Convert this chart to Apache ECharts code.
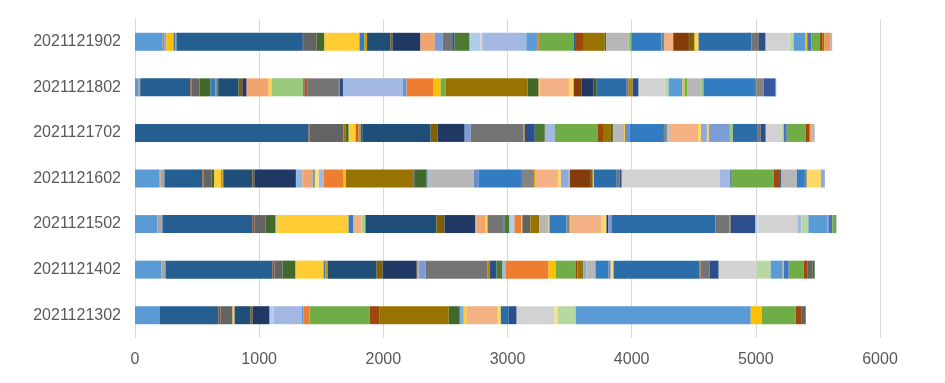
<!DOCTYPE html>
<html><head><meta charset="utf-8">
<script src="https://cdn.jsdelivr.net/npm/echarts@6/dist/echarts.min.js"></script>
<style>html,body{margin:0;padding:0;background:#fff}#c{width:945px;height:383px}</style>
</head><body><div id="c"></div>
<script>
// Categories (bottom to top in the chart)
const categories = ['2021121302','2021121402','2021121502','2021121602','2021121702','2021121802','2021121902'];
const xTicks = [0, 1000, 2000, 3000, 4000, 5000, 6000];
const seriesCount = 137;

// Values per category, keyed by series number (missing = 0)
const v2021121902 = {1:224,2:10,3:20,4:56,5:16,6:8,7:1018,8:8,9:102,12:64,16:282,19:40,22:21,31:188,34:16,35:226,38:116,41:64,45:76,47:19,48:121,49:86,51:16,53:355,55:85,56:16,60:280,61:11,62:64,64:175,66:13,69:180,72:21,73:244,75:24,80:70,86:126,88:46,94:32,97:427,99:59,101:54,105:193,108:32,109:97,112:13,113:32,114:67,116:21,118:19,122:46,123:16};
const v2021121802 = {1:26,3:16,7:405,8:8,9:64,12:89,19:40,21:11,24:11,31:164,34:30,35:35,38:177,40:24,42:255,43:11,44:21,45:255,46:8,47:27,53:478,55:32,56:218,58:56,60:40,64:661,66:89,70:8,80:242,82:32,86:62,89:99,90:24,97:242,99:16,100:32,101:48,103:8,105:201,108:32,109:113,112:16,114:24,123:113,126:16,127:414,128:11,129:59,131:97,133:5};
const v2021121702 = {7:1398,8:8,9:272,10:19,12:24,16:56,20:24,22:16,23:13,31:551,34:56,35:218,41:48,45:425,46:11,47:81,48:81,53:81,60:347,62:40,64:64,66:16,69:89,70:8,71:40,73:274,75:24,79:16,80:234,82:24,83:48,94:16,95:169,96:24,97:201,99:24,101:40,105:129,108:16,113:24,114:153,116:32,122:16,123:24};
const v2021121602 = {1:197,2:8,3:32,7:306,8:8,9:64,12:24,16:56,19:8,22:8,31:234,34:16,35:328,36:8,37:51,38:81,41:8,48:11,52:32,53:40,56:161,58:16,64:548,65:8,66:97,67:16,69:363,71:40,73:347,75:97,76:8,80:185,82:24,83:64,84:8,86:169,88:16,94:8,97:185,99:24,101:16,105:790,107:81,113:8,114:347,116:48,119:8,123:129,127:64,129:16,136:113,137:32};
const v2021121502 = {1:181,3:40,7:725,8:16,9:89,12:81,13:8,16:580,19:40,26:64,30:32,31:572,34:64,35:250,37:8,38:73,40:16,45:129,47:8,48:40,49:40,56:56,58:8,63:64,64:73,69:73,70:8,73:137,75:24,76:8,80:250,82:40,89:16,95:24,97:838,99:113,100:8,101:201,103:16,105:322,107:32,108:56,109:153,110:8,113:32,114:24,117:8};
const v2021121402 = {1:214,3:32,7:862,8:16,9:64,12:105,16:226,19:16,22:16,31:395,34:48,35:274,36:8,38:8,41:56,45:500,46:16,47:56,48:48,53:24,56:347,58:56,60:161,62:16,64:48,67:24,69:73,73:105,75:16,79:8,82:16,97:693,98:8,99:73,101:73,105:306,108:113,109:97,112:8,113:40,114:121,116:32,117:40,120:16};
const v2021121302 = {1:197,7:476,8:16,9:97,16:16,31:129,34:16,35:137,49:32,53:226,55:16,56:48,60:484,62:81,64:556,66:89,67:32,70:24,80:250,82:24,97:64,101:64,105:306,106:24,108:145,109:1410,112:89,114:274,116:48,117:32};

const valuesByCategory = {
  '2021121302': v2021121302, '2021121402': v2021121402, '2021121502': v2021121502,
  '2021121602': v2021121602, '2021121702': v2021121702, '2021121802': v2021121802,
  '2021121902': v2021121902
};

// Office-style colour cycle: 6 accents x 9 variations
const accents = ['#5B9BD5','#ED7D31','#A5A5A5','#FFC000','#4472C4','#70AD47'];
const variations = [[1,0],[0.6,0],[0.8,0.2],[0.8,0],[0.6,0.4],[0.5,0],[0.7,0.3],[0.7,0],[0.5,0.5]];
function hexToRgb(h){return [parseInt(h.slice(1,3),16)/255,parseInt(h.slice(3,5),16)/255,parseInt(h.slice(5,7),16)/255];}
function rgbToHsl(r,g,b){
  const mx=Math.max(r,g,b), mn=Math.min(r,g,b), l=(mx+mn)/2; let h=0,s=0;
  if(mx!==mn){const d=mx-mn; s=l>0.5?d/(2-mx-mn):d/(mx+mn);
    if(mx===r)h=((g-b)/d+(g<b?6:0)); else if(mx===g)h=(b-r)/d+2; else h=(r-g)/d+4; h/=6;}
  return [h,s,l];
}
function hue2rgb(p,q,t){if(t<0)t+=1;if(t>1)t-=1;if(t<1/6)return p+(q-p)*6*t;if(t<1/2)return q;if(t<2/3)return p+(q-p)*(2/3-t)*6;return p;}
function hslToHex(h,s,l){
  let r,g,b; if(s===0){r=g=b=l;} else {const q=l<0.5?l*(1+s):l+s-l*s, p=2*l-q; r=hue2rgb(p,q,h+1/3); g=hue2rgb(p,q,h); b=hue2rgb(p,q,h-1/3);}
  const t=x=>Math.round(x*255).toString(16).padStart(2,'0'); return '#'+t(r)+t(g)+t(b);
}
function colorFor(i){
  const c=(i-1)%54, p=Math.floor(c/6), a=c%6;
  const [h,s,l]=rgbToHsl(...hexToRgb(accents[a]));
  const [lm,lo]=variations[p];
  return hslToHex(h,s,Math.min(1,l*lm+lo));
}

const series = [];
for (let i = 1; i <= seriesCount; i++) {
  series.push({
    name: 'S' + i, type: 'bar', stack: 'total', barWidth: 18,
    data: categories.map(c => valuesByCategory[c][i] || 0),
    itemStyle: { color: colorFor(i) }, silent: true
  });
}

const chart = echarts.init(document.getElementById('c'), null, {renderer: 'canvas'});
chart.setOption({
  animation: false,
  grid: { left: 135, right: 65, top: 19, bottom: 45, containLabel: false },
  xAxis: {
    type: 'value', min: xTicks[0], max: xTicks[xTicks.length-1], interval: 1000,
    axisLine: { show: false }, axisTick: { show: false },
    splitLine: { lineStyle: { color: '#D9D9D9', width: 1 } },
    axisLabel: { color: '#595959', fontSize: 16, fontFamily: 'Liberation Sans', margin: 14,
                 formatter: v => String(v) }
  },
  yAxis: {
    type: 'category', data: categories,
    axisLine: { lineStyle: { color: '#D9D9D9' } }, axisTick: { show: false },
    axisLabel: { color: '#595959', fontSize: 16, fontFamily: 'Liberation Sans', margin: 14 }
  },
  series: series
});
</script>
</body></html>
